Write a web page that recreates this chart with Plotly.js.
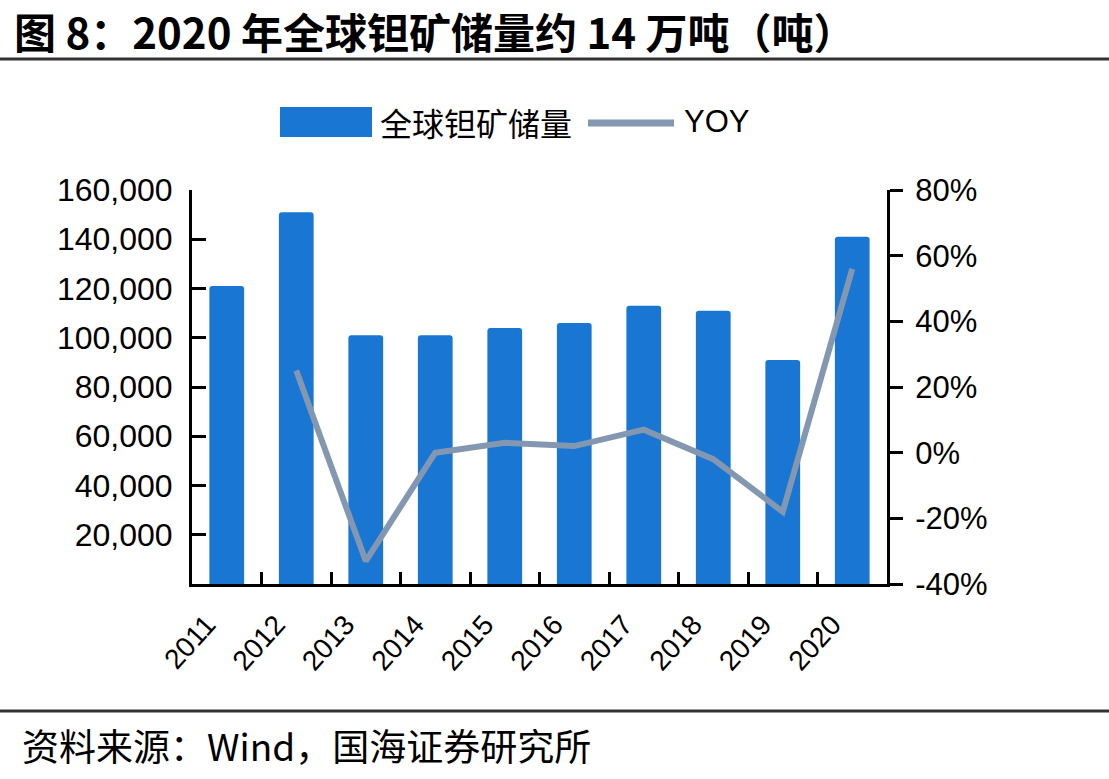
<!DOCTYPE html>
<html>
<head>
<meta charset="utf-8">
<script src="https://cdn.plot.ly/plotly-3.0.1.min.js"></script>
<style>
  html, body { margin: 0; padding: 0; background: #fff; }
  #chart { width: 1109px; height: 779px; }
</style>
</head>
<body>
<div id="chart"></div>
<script>
// 全球钽矿储量（吨）及同比
const years = ['2011', '2012', '2013', '2014', '2015', '2016', '2017', '2018', '2019', '2020'];
const reserves = [121000, 151000, 101000, 101000, 104000, 106000, 113000, 111000, 91000, 141000];
const yoy = [null, 0.25, -0.33, 0.00, 0.03, 0.02, 0.07, -0.02, -0.18, 0.56];
const leftTicks = [20000, 40000, 60000, 80000, 100000, 120000, 140000, 160000];
const rightTicks = [-0.4, -0.2, 0, 0.2, 0.4, 0.6, 0.8];
const rightTickText = ['-40%', '-20%', '0%', '20%', '40%', '60%', '80%'];

const barColor = '#1976D2';
const lineColor = '#8497B0';
const latin = 'Liberation Sans, Arial, sans-serif';
const cjk = 'Noto Sans CJK SC, sans-serif';

// plot area in pixels: x 192..887, y 190..584
const L = 192, R = 887, T = 190, B = 584;
const px = x => (x - L) / (R - L);
const py = y => (B - y) / (B - T);

const traces = [
  {
    type: 'bar', x: years, y: reserves, name: '全球钽矿储量',
    marker: { color: barColor, cornerradius: 3 },
    width: 0.5, hoverinfo: 'x+y'
  },
  {
    type: 'scatter', mode: 'lines', x: years, y: yoy, name: 'YOY', yaxis: 'y2',
    line: { color: lineColor, width: 6 }, connectgaps: false
  }
];

const layout = {
  width: 1109, height: 779,
  margin: { l: L, r: 1109 - R, t: T, b: 779 - B, pad: 0 },
  paper_bgcolor: '#ffffff', plot_bgcolor: '#ffffff',
  showlegend: false,
  font: { family: latin, color: '#000' },
  xaxis: {
    type: 'category', showgrid: false, zeroline: false,
    showline: true, linecolor: '#000', linewidth: 3,
    ticks: 'inside', tickson: 'boundaries', ticklen: 12, tickwidth: 3, tickcolor: '#000',
    tickangle: -48, tickfont: { family: latin, size: 28, color: '#000' },
    ticklabelstandoff: 10, ticklabelshift: -20,
    range: [-0.5, 9.5]
  },
  yaxis: {
    range: [0, 160000], tickvals: leftTicks, tickformat: ',',
    showgrid: false, zeroline: false,
    showline: true, linecolor: '#000', linewidth: 3,
    ticks: 'inside', ticklen: 14, tickwidth: 3, tickcolor: '#000',
    tickfont: { family: latin, size: 32, color: '#000' }, ticklabelstandoff: 10
  },
  yaxis2: {
    overlaying: 'y', side: 'right', range: [-0.4, 0.8],
    tickvals: rightTicks, ticktext: rightTickText,
    showgrid: false, zeroline: false,
    showline: true, linecolor: '#000', linewidth: 3,
    ticks: 'outside', ticklen: 13, tickwidth: 3, tickcolor: '#000',
    tickfont: { family: latin, size: 31, color: '#000' }, ticklabelstandoff: 6
  },
  shapes: [
    // rules under the heading and above the source note
    { type: 'line', xref: 'paper', yref: 'paper', x0: px(0), x1: px(1109), y0: py(59), y1: py(59),
      line: { color: '#333', width: 3 } },
    { type: 'line', xref: 'paper', yref: 'paper', x0: px(0), x1: px(1109), y0: py(711), y1: py(711),
      line: { color: '#333', width: 3 } },
    // legend swatches
    { type: 'rect', xref: 'paper', yref: 'paper', x0: px(280), x1: px(372), y0: py(137), y1: py(107),
      fillcolor: barColor, line: { width: 0 } },
    { type: 'line', xref: 'paper', yref: 'paper', x0: px(588), x1: px(674), y0: py(123), y1: py(123),
      line: { color: lineColor, width: 7 } }
  ],
  annotations: [
    { xref: 'paper', yref: 'paper', x: px(12), y: py(31), xanchor: 'left', yanchor: 'middle',
      text: '<b>图 8：2020 年全球钽矿储量约 14 万吨（吨）</b>', showarrow: false,
      font: { family: cjk, size: 42, color: '#000' } },
    { xref: 'paper', yref: 'paper', x: px(378), y: py(122), xanchor: 'left', yanchor: 'middle',
      text: '全球钽矿储量', showarrow: false, font: { family: cjk, size: 32, color: '#000' } },
    { xref: 'paper', yref: 'paper', x: px(682), y: py(122), xanchor: 'left', yanchor: 'middle',
      text: 'YOY', showarrow: false, font: { family: latin, size: 31, color: '#000' } },
    { xref: 'paper', yref: 'paper', x: px(20), y: py(745), xanchor: 'left', yanchor: 'middle',
      text: '资料来源：Wind，国海证券研究所', showarrow: false, font: { family: cjk, size: 37, color: '#000' } }
  ]
};

Plotly.newPlot('chart', traces, layout, { displayModeBar: false, staticPlot: true });
</script>
</body>
</html>
